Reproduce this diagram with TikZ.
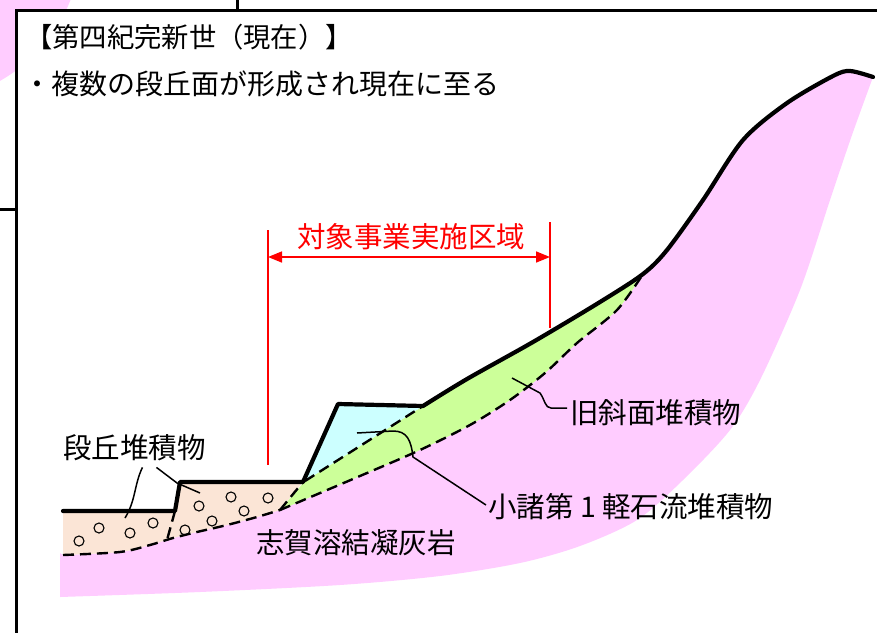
\documentclass[tikz,border=0pt]{standalone}
\usepackage{fontspec}
\setmainfont{Noto Sans CJK JP}
\usetikzlibrary{arrows.meta}
\definecolor{rockpink}{RGB}{255,204,255}
\definecolor{terracefill}{RGB}{251,229,214}
\definecolor{slopegreen}{RGB}{204,255,153}
\definecolor{pumicecyan}{RGB}{204,255,255}
\begin{document}
\begin{tikzpicture}[x=1pt,y=-1pt,
  surface/.style={line width=4.2pt, line join=round, line cap=round},
  boundary/.style={line width=2.4pt, dash pattern=on 11pt off 6pt},
  leader/.style={line width=1.5pt},
  pebble/.style={line width=1.1pt},
  geolabel/.style={inner sep=0pt, font=\fontsize{28.5}{32}\selectfont},
  redmark/.style={red, line width=1.6pt}]
\useasboundingbox (0,0) rectangle (877,632);

% neighbouring panels behind the frame
\fill[rockpink] (-80,-60) circle[radius=162pt];
\fill[white] (16,10) rectangle (895,650);
\draw[line width=3pt] (16,650) -- (16,10) -- (895,10);
\draw[line width=2.5pt] (237.5,-5) -- (237.5,10);
\draw[line width=3pt] (-5,209) -- (16,209);

% headings
\node[geolabel, anchor=west, font=\fontsize{27.3}{32}\selectfont] (title) at (25,37) {【第四紀完新世（現在）】};
\node[geolabel, anchor=west, font=\fontsize{28}{32}\selectfont] (subtitle) at (23,84) {・複数の段丘面が形成され現在に至る};

% welded tuff bedrock
\fill[rockpink]
  (60,553) -- (63,555)
  -- plot[smooth] coordinates {(63,555) (120,552) (150,545) (173,538) (197,532) (227,525) (257,517) (280,510)}
  -- plot[smooth] coordinates {(280,510) (360,476) (420,450) (470,425) (510,400) (545,373) (577,343) (617,310) (643,274)}
  -- plot[smooth] coordinates {(643,274) (667,250) (703,200) (743,140) (787,103) (833,76) (850,71) (873,77)}
  -- plot[smooth] coordinates {(873,77) (852,135) (830,200) (800,290) (760,380) (730,430) (683,480) (637,520) (580,546) (520,563) (440,576) (340,585) (200,592) (60,597)}
  -- cycle;

% terrace deposits
\fill[terracefill] (63,511) -- (175,511) -- (180,482) -- (303,482) -- (280,510)
  -- plot[smooth] coordinates {(280,510) (257,517) (227,525) (197,532) (173,538) (150,545) (120,552) (63,555)}
  -- cycle;

% old slope deposits
\fill[slopegreen] (280,510) -- (305,481) -- (423,406)
  -- plot[smooth] coordinates {(423,406) (467,379) (533,342) (600,302) (643,274)}
  -- plot[smooth] coordinates {(643,274) (617,310) (577,343) (545,373) (510,400) (470,425) (420,450) (360,476) (280,510)}
  -- cycle;

% pumice flow deposit
\fill[pumicecyan] (305,481) -- (338,404) -- (423,406) -- cycle;

% pebbles in the terrace deposits
\foreach \p in {(79,541),(99,528),(130,533),(153,523),(185,530),(199,506),(212,521),(231,497),(244,511),(268,498)}
  \draw[pebble] \p circle[radius=5pt];

% buried boundaries
\draw[boundary] plot[smooth] coordinates {(63,555) (120,552) (150,545) (173,538) (197,532) (227,525) (257,517) (280,510)};
\draw[boundary] (280,510) -- (303,482);
\draw[boundary] (305,481) -- (423,406);
\draw[boundary] plot[smooth] coordinates {(280,510) (360,476) (420,450) (470,425) (510,400) (545,373) (577,343) (617,310) (643,274)};
\draw[boundary] (175,511) -- (167,540);

% ground surface
\draw[surface] (63,511) -- (175,511) -- (180,482) -- (303,482) -- (338,404) -- (423,406)
  -- plot[smooth] coordinates {(423,406) (467,379) (533,342) (600,302) (643,274) (667,250) (703,200) (743,140) (787,103) (833,76) (850,71) (873,77)};

% project area
\coordinate (zoneL) at (268,257);
\coordinate (zoneR) at (550,257);
\coordinate (zoneLtop) at (268,230);
\coordinate (zoneLbot) at (268,465);
\coordinate (zoneRtop) at (550,222);
\coordinate (zoneRbot) at (550,328);
\draw[redmark] (zoneLtop) -- (zoneLbot);
\draw[redmark] (zoneRtop) -- (zoneRbot);
\draw[redmark, {Triangle[length=14pt,width=11pt]}-{Triangle[length=14pt,width=11pt]}] (zoneL) -- (zoneR);
\node[geolabel, text=red, font=\fontsize{28.5}{32}\selectfont] (zone) at (411,237) {対象事業実施区域};

% unit labels and leaders
\node[geolabel, anchor=west] (lblTerrace) at (63,448) {段丘堆積物};
\node[geolabel, anchor=west] (lblOld) at (570,413) {旧斜面堆積物};
\node[geolabel, anchor=west] (lblKomoro) at (488,507) {小諸第 1 軽石流堆積物};
\node[geolabel, anchor=west] (lblRock) at (256,543) {志賀溶結凝灰岩};

\coordinate (tA) at (125,518);
\coordinate (tB) at (200,493);
\coordinate (kA) at (357,433);
\coordinate (oA) at (512,378);

\draw[leader] ([shift={(8,6)}]lblTerrace.south) .. controls (134,485) and (136,500) .. (tA);
\draw[leader] ([shift={(22,6)}]lblTerrace.south) -- (177,483) -- (tB);
\draw[leader] ([shift={(-2,-2)}]lblKomoro.west) -- (413,457) .. controls (411,440) and (407,431) .. (393,431) -- (kA);
\draw[leader] ([shift={(-3,-5)}]lblOld.west) -- (551,408) .. controls (545,408) and (545,400) .. (540,393) -- (oA);
\end{tikzpicture}
\end{document}
